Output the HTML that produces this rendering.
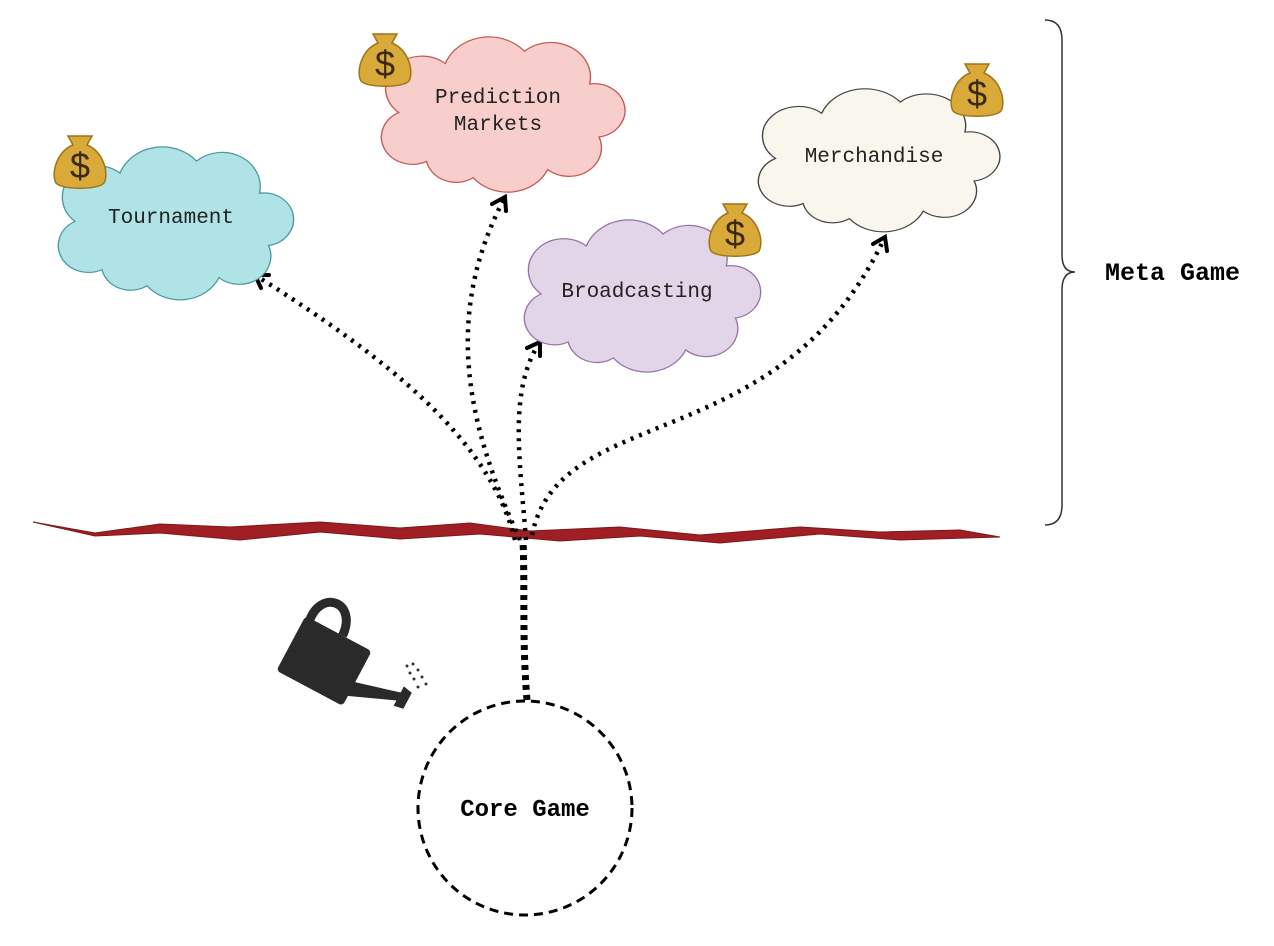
<!DOCTYPE html>
<html><head><meta charset="utf-8"><style>
html,body{margin:0;padding:0;background:#fff}
svg{display:block}
text{font-family:"Liberation Mono",monospace}
</style></head><body>
<svg width="1274" height="946" viewBox="0 0 1274 946">
<defs>
<path id="cloud" d="M20,62 A13,13 0 0 1 8,38 A15,15 0 0 1 28,14 A20,20 0 0 1 62,8 A17,17 0 0 1 90,24 A13,13 0 0 1 94,50 A14,14 0 0 1 72,66 A19,19 0 0 1 40,70 A13,13 0 0 1 20,62 Z"/>
<g id="bag">
<path d="M-12,-26 L12,-26 L7,-17 C24,-10 29,12 24,21 C19,28 -19,28 -24,21 C-29,12 -24,-10 -7,-17 Z" fill="#d9a93a" stroke="#a07418" stroke-width="1.5"/>
<text x="0" y="16" text-anchor="middle" font-size="36" fill="#3a2a10" style="font-family:'Liberation Sans',sans-serif">$</text>
</g>
</defs>

<g>
<polygon points="33,522 95,533 160,524 230,527 320,522 400,528 470,523 530,531 620,527 700,535 800,527 880,532 960,530 1000,537 900,540 820,534 720,543 640,536 560,541 480,534 400,539 320,532 240,540 160,533 95,536" fill="#a01f24" stroke="#7e1619" stroke-width="1"/>
</g>

<g fill="none" stroke="#000" stroke-width="4.5" stroke-dasharray="3 6">
<path d="M527,700 C522,640 525,590 523,540" stroke-width="7" stroke-dasharray="5 5"/>
<path d="M515,540 C490,440 390,360 255,275"/>
<path d="M520,540 C470,430 440,320 505,197"/>
<path d="M526,540 C520,460 508,390 540,342"/>
<path d="M532,535 C560,400 780,460 885,237"/>
</g>
<g fill="none" stroke="#000" stroke-width="4" stroke-linecap="round" stroke-linejoin="miter">
<path d="M269,275 L255,275 L261,288"/>
<path d="M506,211 L505,197 L492,204"/>
<path d="M540,356 L540,342 L527,348"/>
<path d="M887,251 L885,237 L873,244"/>
</g>

<g>
<use href="#cloud" transform="translate(57,145) scale(2.25,2.01)" fill="#b0e3e6" stroke="#4a9aa0" stroke-width="0.6"/>
<text x="171" y="223" text-anchor="middle" font-size="21" fill="#222">Tournament</text>
<use href="#bag" x="80" y="162"/>
</g>
<g>
<use href="#cloud" transform="translate(380,35) scale(2.33,2.04)" fill="#f8cecc" stroke="#c45a55" stroke-width="0.6"/>
<text x="498" y="103" text-anchor="middle" font-size="21" fill="#222">Prediction</text>
<text x="498" y="130" text-anchor="middle" font-size="21" fill="#222">Markets</text>
<use href="#bag" x="385" y="60"/>
</g>
<g>
<use href="#cloud" transform="translate(523,218) scale(2.26,2.0)" fill="#e1d5e7" stroke="#9673a6" stroke-width="0.6"/>
<text x="637" y="297" text-anchor="middle" font-size="21" fill="#222">Broadcasting</text>
<use href="#bag" x="735" y="230"/>
</g>
<g>
<use href="#cloud" transform="translate(757,87) scale(2.31,1.88)" fill="#f9f7ed" stroke="#444" stroke-width="0.6"/>
<text x="874" y="162" text-anchor="middle" font-size="21" fill="#222">Merchandise</text>
<use href="#bag" x="977" y="90"/>
</g>

<g>
<path d="M1045,20 Q1062,20 1062,40 L1062,255 Q1062,272 1075,272 Q1062,272 1062,290 L1062,505 Q1062,525 1045,525" fill="none" stroke="#333" stroke-width="1.5"/>
<text x="1105" y="280" font-size="25" font-weight="bold" fill="#000">Meta Game</text>
</g>

<g transform="rotate(28 330 655)">
<rect x="290" y="632" width="75" height="62" rx="4" fill="#2a2a2a"/>
<path d="M296,636 C290,600 330,595 332,632" fill="none" stroke="#2a2a2a" stroke-width="9"/>
<path d="M362,668 L410,655 L410,648 L420,650 L420,668 L410,670 L410,664 L362,684 Z" fill="#2a2a2a"/>
</g>
<g fill="#333">
<circle cx="407" cy="666" r="1.5"/><circle cx="413" cy="664" r="1.5"/><circle cx="410" cy="673" r="1.5"/><circle cx="418" cy="670" r="1.5"/><circle cx="414" cy="679" r="1.5"/><circle cx="422" cy="677" r="1.5"/><circle cx="418" cy="687" r="1.5"/><circle cx="426" cy="684" r="1.5"/>
</g>

<g>
<circle cx="525" cy="808" r="107" fill="none" stroke="#000" stroke-width="3" stroke-dasharray="9 6"/>
<text x="525" y="816" text-anchor="middle" font-size="24" font-weight="bold" fill="#000">Core Game</text>
</g>
</svg>
</body></html>
